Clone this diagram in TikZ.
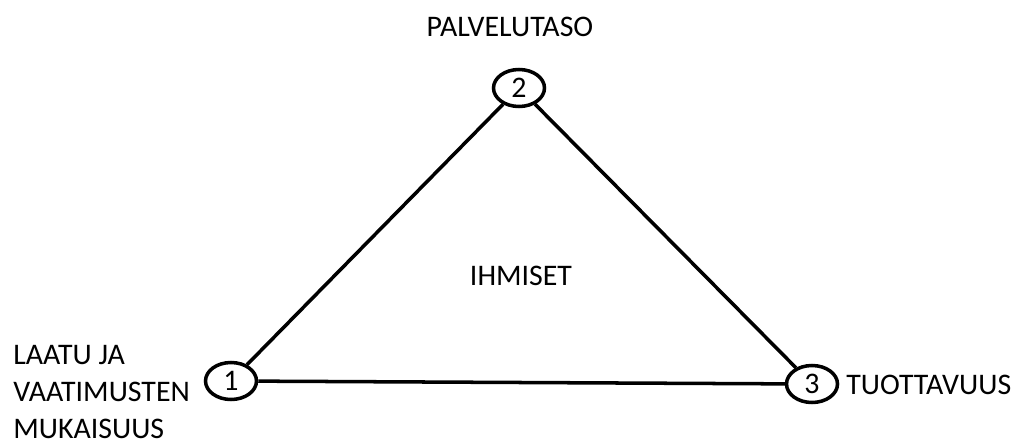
\documentclass[tikz,border=0pt]{standalone}
\usepackage{fontspec}
\setmainfont{Carlito}
\usetikzlibrary{positioning, shapes.geometric}
\tikzset{
  numnode/.style={draw=black, ellipse, line width=2pt, minimum width=1.02cm,
                  minimum height=0.74cm, inner sep=0pt, font=\fontsize{17}{20}\selectfont},
  lbl/.style={inner sep=0pt, font=\fontsize{17}{21}\selectfont, align=left},
  side/.style={line width=2pt, black},
}

\begin{document}
\begin{tikzpicture}[x=0.02cm, y=-0.02cm]
  \useasboundingbox (0,0) rectangle (1026,446);
  % corners of the triangle
  \node[numnode] (n1) at (231,381) {1};
  \node[numnode] (n2) at (519,88)  {2};
  \node[numnode] (n3) at (812,384) {3};
  \draw[side] (n1) -- (n2);
  \draw[side] (n2) -- (n3);
  \draw[side] (n1) -- (n3);
  % texts
  \node[lbl] (tPal)  at (510,27)  {PALVELUTASO};
  \node[lbl] (tIhm)  at (521,276) {IHMISET};
  \node[lbl, anchor=west] (tLaa) at (13,392) {LAATU JA\\VAATIMUSTEN\\MUKAISUUS};
  \node[lbl, anchor=west] (tTuo) at (846,385) {TUOTTAVUUS};
\end{tikzpicture}
\end{document}
